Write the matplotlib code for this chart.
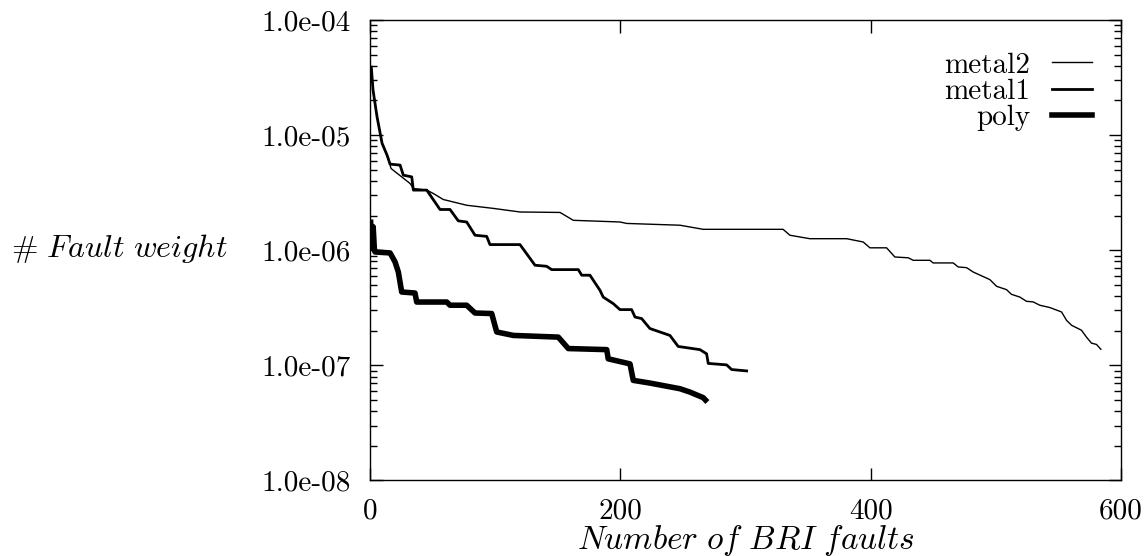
import numpy as np
import matplotlib
matplotlib.use("Agg")
import matplotlib.pyplot as plt
from matplotlib.ticker import FixedLocator, LogLocator, FuncFormatter, NullFormatter

plt.rcParams['font.family'] = ['cmr10', 'DejaVu Serif']
plt.rcParams['mathtext.fontset'] = 'cm'

# data (x = fault index, y = fault weight)
metal2_x = [1, 2.4, 5.6, 9.6, 13.6, 16.8, 32, 34.6, 45.3, 50.6, 58.5, 77.2, 98.5,
            119.8, 151.8, 162.4, 199.7, 205, 247.6, 266.2, 330, 335.5, 351.4,
            380.8, 394, 399.4, 412.7, 419.3, 430, 434, 447.3, 449.9, 465.9,
            469.9, 476.6, 481.9, 495.2, 500.6, 508.5, 512.5, 519.2, 524.5,
            529.8, 535.1, 543.1, 552.5, 556.5, 560.5, 568.4, 572.4, 576.4,
            580.4, 583.9]
metal2_y = [3.9e-5, 2.46e-5, 1.44e-5, 8.5e-6, 6.7e-6, 5.13e-6, 3.8e-6, 3.44e-6,
            3.33e-6, 3.11e-6, 2.76e-6, 2.46e-6, 2.31e-6, 2.15e-6, 2.13e-6,
            1.82e-6, 1.76e-6, 1.71e-6, 1.65e-6, 1.52e-6, 1.52e-6, 1.35e-6,
            1.26e-6, 1.26e-6, 1.18e-6, 1.05e-6, 1.05e-6, 8.74e-7, 8.6e-7,
            8.18e-7, 8.18e-7, 7.76e-7, 7.76e-7, 7.16e-7, 7.06e-7, 6.47e-7,
            5.56e-7, 4.86e-7, 4.55e-7, 4.14e-7, 3.92e-7, 3.6e-7, 3.56e-7,
            3.33e-7, 3.18e-7, 2.91e-7, 2.46e-7, 2.23e-7, 2.02e-7, 1.76e-7,
            1.56e-7, 1.52e-7, 1.38e-7]

metal1_x = [1, 2.4, 5.6, 9.6, 13.6, 16, 24, 26.6, 33.3, 34.6, 45.3, 55.9, 63.9,
            70.5, 77.2, 83.9, 93.2, 95.8, 119.8, 131.8, 141.1, 145.1, 166.4,
            169.1, 175.7, 183.7, 186.3, 194.3, 199.7, 209, 211.7, 217, 223.6,
            231.6, 239.6, 246.2, 263.6, 268.9, 270.2, 284.9, 288.9, 300.9]
metal1_y = [3.9e-5, 2.46e-5, 1.44e-5, 8.5e-6, 6.7e-6, 5.6e-6, 5.49e-6, 4.49e-6,
            4.34e-6, 3.33e-6, 3.33e-6, 2.26e-6, 2.26e-6, 1.8e-6, 1.76e-6,
            1.35e-6, 1.32e-6, 1.12e-6, 1.12e-6, 7.41e-7, 7.26e-7, 6.79e-7,
            6.79e-7, 6.07e-7, 6.07e-7, 4.49e-7, 3.92e-7, 3.44e-7, 3.05e-7,
            3.05e-7, 2.63e-7, 2.55e-7, 2.09e-7, 1.95e-7, 1.82e-7, 1.46e-7,
            1.37e-7, 1.26e-7, 1.04e-7, 1.01e-7, 9.2e-8, 8.95e-8]

poly_x = [0.5, 1.5, 2.5, 3.5, 4, 16, 20, 22.6, 25.3, 35.9, 37.3, 61.3, 63.9,
          77.2, 83.9, 97.2, 101.2, 114.5, 150.4, 158.4, 189.1, 190.3, 207.7,
          210.3, 223.6, 247.6, 255.6, 266.2, 268]
poly_y = [1.75e-6, 1.05e-6, 1.6e-6, 1.0e-6, 9.66e-7, 9.48e-7, 7.91e-7, 6.47e-7,
          4.34e-7, 4.25e-7, 3.55e-7, 3.55e-7, 3.33e-7, 3.33e-7, 2.85e-7,
          2.82e-7, 1.95e-7, 1.82e-7, 1.76e-7, 1.4e-7, 1.37e-7, 1.14e-7,
          1.03e-7, 7.41e-8, 7.02e-8, 6.27e-8, 5.86e-8, 5.24e-8, 5.0e-8]

x_ticks = [0, 200, 400, 600]
y_ticks = [1e-8, 1e-7, 1e-6, 1e-5, 1e-4]

fig = plt.figure(figsize=(11.46, 5.56), dpi=100)
ax = fig.add_axes([0.3229, 0.1358, 0.6553, 0.8282])

ax.plot(metal2_x, metal2_y, 'k', lw=1.0, label='metal2')
ax.plot(metal1_x, metal1_y, 'k', lw=2.0, label='metal1')
ax.plot(poly_x, poly_y, 'k', lw=4.0, label='poly')

ax.set_yscale('log')
ax.set_xlim(0, 600)
ax.set_ylim(1e-8, 1e-4)

ax.xaxis.set_major_locator(FixedLocator(x_ticks))
ax.yaxis.set_major_locator(FixedLocator(y_ticks))
ax.yaxis.set_minor_locator(LogLocator(base=10, subs=np.arange(2, 10), numticks=20))
ax.yaxis.set_minor_formatter(NullFormatter())
ax.yaxis.set_major_formatter(FuncFormatter(lambda v, p: '%.1e' % v))

ax.tick_params(axis='both', which='both', direction='in', top=True, right=True,
               labelsize=21, width=1.0)
ax.tick_params(axis='both', which='major', length=9)
ax.tick_params(axis='y', which='minor', length=5)
ax.tick_params(axis='x', which='major', pad=13)
ax.tick_params(axis='y', which='major', pad=14)
for s in ax.spines.values():
    s.set_linewidth(1.0)

ax.set_xlabel(r'$Number\ of\ BRI\ faults$', fontsize=24, va='top')
ax.xaxis.set_label_coords(0.5, -0.092)
ax.set_ylabel(r'$\#\ Fault\ weight$', fontsize=23, rotation=0, ha='right', va='center')
ax.yaxis.set_label_coords(-0.189, 0.503)

ax.legend(loc='upper right', bbox_to_anchor=(0.961, 0.930), borderaxespad=0,
          borderpad=0, frameon=False, markerfirst=False, fontsize=21,
          handlelength=1.35, handletextpad=0.75, labelspacing=0.0)

fig.savefig('out.png', dpi=100)
